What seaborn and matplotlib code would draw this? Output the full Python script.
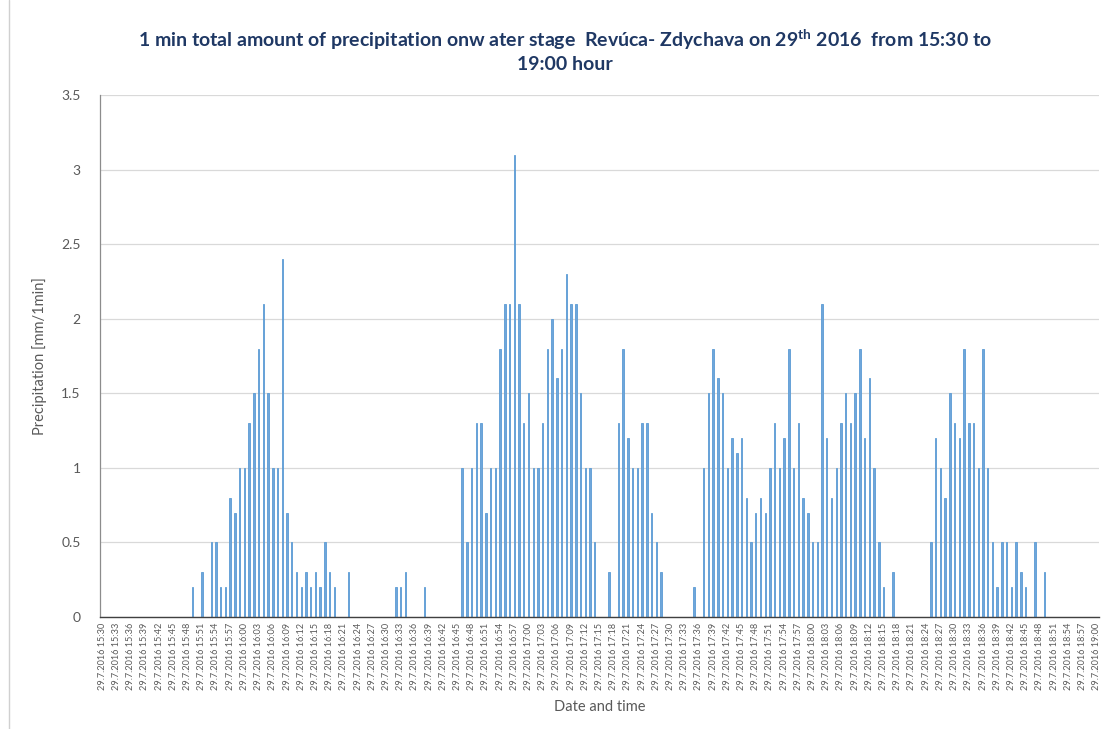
import matplotlib
matplotlib.use("Agg")
import matplotlib.pyplot as plt
import seaborn as sns
import pandas as pd
from matplotlib.lines import Line2D

# ---- data -------------------------------------------------------------
# one value per minute, 15:30 ... 19:00 (211 minutes)
start_hour = 15
start_minute = 30
n_minutes = 211
precip = [
    0, 0, 0, 0, 0, 0, 0, 0, 0, 0,            # 15:30-15:39
    0, 0, 0, 0, 0, 0, 0, 0, 0, 0.2,          # 15:40-15:49
    0, 0.3, 0, 0.5, 0.5, 0.2, 0.2, 0.8, 0.7, 1.0,   # 15:50-15:59
    1.0, 1.3, 1.5, 1.8, 2.1, 1.5, 1.0, 1.0, 2.4, 0.7,  # 16:00-16:09
    0.5, 0.3, 0.2, 0.3, 0.2, 0.3, 0.2, 0.5, 0.3, 0.2,  # 16:10-16:19
    0, 0, 0.3, 0, 0, 0, 0, 0, 0, 0,          # 16:20-16:29
    0, 0, 0.2, 0.2, 0.3, 0, 0, 0, 0.2, 0,    # 16:30-16:39
    0, 0, 0, 0, 0, 0, 1.0, 0.5, 1.0, 1.3,    # 16:40-16:49
    1.3, 0.7, 1.0, 1.0, 1.8, 2.1, 2.1, 3.1, 2.1, 1.3,  # 16:50-16:59
    1.5, 1.0, 1.0, 1.3, 1.8, 2.0, 1.6, 1.8, 2.3, 2.1,  # 17:00-17:09
    2.1, 1.5, 1.0, 1.0, 0.5, 0, 0, 0.3, 0, 1.3,        # 17:10-17:19
    1.8, 1.2, 1.0, 1.0, 1.3, 1.3, 0.7, 0.5, 0.3, 0,    # 17:20-17:29
    0, 0, 0, 0, 0, 0.2, 0, 1.0, 1.5, 1.8,              # 17:30-17:39
    1.6, 1.5, 1.0, 1.2, 1.1, 1.2, 0.8, 0.5, 0.7, 0.8,  # 17:40-17:49
    0.7, 1.0, 1.3, 1.0, 1.2, 1.8, 1.0, 1.3, 0.8, 0.7,  # 17:50-17:59
    0.5, 0.5, 2.1, 1.2, 0.8, 1.0, 1.3, 1.5, 1.3, 1.5,  # 18:00-18:09
    1.8, 1.2, 1.6, 1.0, 0.5, 0.2, 0, 0.3, 0, 0,        # 18:10-18:19
    0, 0, 0, 0, 0, 0.5, 1.2, 1.0, 0.8, 1.5,            # 18:20-18:29
    1.3, 1.2, 1.8, 1.3, 1.3, 1.0, 1.8, 1.0, 0.5, 0.2,  # 18:30-18:39
    0.5, 0.5, 0.2, 0.5, 0.3, 0.2, 0, 0.5, 0, 0.3,      # 18:40-18:49
    0, 0, 0, 0, 0, 0, 0, 0, 0, 0,            # 18:50-18:59
    0,                                       # 19:00
]
date_prefix = "29.7.2016"
y_ticks = [0, 0.5, 1, 1.5, 2, 2.5, 3, 3.5]
y_tick_labels = ["0", "0.5", "1", "1.5", "2", "2.5", "3", "3.5"]
title_text = ("1 min total amount of precipitation onw ater stage  Revúca- Zdychava on 29$^{\\mathbf{th}}$ 2016  from 15:30 to\n"
              "19:00 hour")
y_label = "Precipitation [mm/1min]"
x_label = "Date and time"

labels = []
for k in range(n_minutes):
    tot = start_hour * 60 + start_minute + k
    labels.append(f"{date_prefix} {tot // 60}:{tot % 60:02d}")

df = pd.DataFrame({"time": labels, "precip": precip})

# ---- style ------------------------------------------------------------
sns.set_theme(style="white")
plt.rcParams["font.family"] = ["Lato", "DejaVu Sans"]
plt.rcParams["mathtext.fontset"] = "custom"
plt.rcParams["mathtext.rm"] = "Lato"
plt.rcParams["mathtext.bf"] = "Lato:bold"

fig = plt.figure(figsize=(11.01, 7.29), dpi=100)
ax = fig.add_axes([100 / 1101, 1 - 617 / 729, 999 / 1101, (617 - 95) / 729])

sns.barplot(data=df, x="time", y="precip", order=labels, color="#6FA6DA",
            width=0.3, saturation=1, ax=ax, errorbar=None,
            edgecolor="#5B9BD5", linewidth=0.6)

ax.set_xlim(-0.5, n_minutes - 0.5)
ax.set_ylim(0, 3.5)
ax.set_yticks(y_ticks)
ax.set_yticklabels(y_tick_labels, fontsize=10, color="#595959")
tick_pos = list(range(0, n_minutes, 3))
ax.set_xticks(tick_pos)
ax.set_xticklabels([labels[p] for p in tick_pos], rotation=90, fontsize=6.6,
                   color="#595959")
ax.tick_params(axis="both", length=0, pad=4)
ax.tick_params(axis="y", pad=14)

ax.yaxis.grid(True, color="#D9D9D9", linewidth=0.9)
ax.set_axisbelow(True)
for s in ["top", "right"]:
    ax.spines[s].set_visible(False)
ax.spines["left"].set_color("#8C8C8C")
ax.spines["left"].set_linewidth(0.9)
ax.spines["bottom"].set_color("#404040")
ax.spines["bottom"].set_linewidth(1.0)

ax.set_xlabel(x_label, fontsize=10.5, color="#595959", labelpad=7)
ax.set_ylabel(y_label, fontsize=10.5, color="#595959", labelpad=10)

fig.text(565 / 1101, 1 - 50 / 729, title_text, ha="center", va="center",
         fontsize=14, fontweight="bold", color="#1F3864", linespacing=1.25)

# faint chart-area border on the left
fig.add_artist(Line2D([9 / 1101, 9 / 1101], [0, 1], transform=fig.transFigure,
                      color="#D0D0D0", linewidth=1))

fig.savefig("out.png", dpi=100)
